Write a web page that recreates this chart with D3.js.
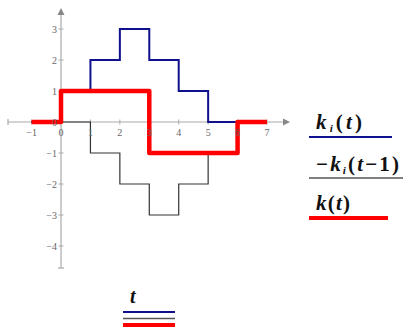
<!DOCTYPE html>
<html>
<head>
<meta charset="utf-8">
<script src="https://cdn.jsdelivr.net/npm/d3@7/dist/d3.min.js"></script>
<style>
  html, body { margin: 0; padding: 0; background: #fff; }
  svg { display: block; }
  .math { font-family: "Liberation Serif", "DejaVu Serif", serif; font-weight: bold; fill: #111; }
  .math .v { font-style: italic; }
  .tick-label { font-family: "Liberation Serif", "DejaVu Serif", serif; font-size: 10px; fill: #666; }
</style>
</head>
<body>
<svg id="chart" width="404" height="328"></svg>
<script>
// Sample times and step-function values (each value holds until the next time)
const times = [-1, 0, 1, 2, 3, 4, 5, 6, 7];
const kiValues = [0, 1, 2, 3, 2, 1, 0, 0, 0];          // k_i(t)
const kiShiftNeg = [0, 0, -1, -2, -3, -2, -1, 0, 0];   // -k_i(t-1)
const kValues = [0, 1, 1, 1, -1, -1, -1, 0, 0];        // k(t)
const xTicks = [-1, 0, 1, 2, 3, 4, 5, 6, 7];
const yTicks = [-4, -3, -2, -1, 0, 1, 2, 3];

const svg = d3.select("#chart");
const x = d3.scaleLinear().domain([0, 7]).range([61, 267]);
const y = d3.scaleLinear().domain([-4, 3]).range([246, 29]);

const axisColor = "#aaa";
const fmt = v => v < 0 ? "\u2212" + Math.abs(v) : String(v);

// Axis lines, end caps and arrows
const axes = svg.append("g");
axes.append("line").attr("x1", 8).attr("x2", 284).attr("y1", y(0)).attr("y2", y(0))
  .attr("stroke", axisColor).attr("stroke-width", 1.2);
axes.append("line").attr("x1", 8).attr("x2", 8).attr("y1", y(0) - 3).attr("y2", y(0) + 3)
  .attr("stroke", axisColor).attr("stroke-width", 1.2);
axes.append("path").attr("d", `M290,${y(0)} L283,${y(0) - 3.5} L283,${y(0) + 3.5} Z`).attr("fill", "#888");
axes.append("line").attr("x1", x(0)).attr("x2", x(0)).attr("y1", 14).attr("y2", 268)
  .attr("stroke", axisColor).attr("stroke-width", 1.2);
axes.append("line").attr("x1", x(0) - 3).attr("x2", x(0) + 3).attr("y1", 268).attr("y2", 268)
  .attr("stroke", axisColor).attr("stroke-width", 1.2);
axes.append("path").attr("d", `M${x(0)},8 L${x(0) - 3.5},15 L${x(0) + 3.5},15 Z`).attr("fill", "#888");
xTicks.forEach(t => {
  axes.append("line").attr("x1", x(t)).attr("x2", x(t)).attr("y1", y(0) - 2.5).attr("y2", y(0) + 2.5)
    .attr("stroke", axisColor).attr("stroke-width", 1);
});
yTicks.forEach(v => {
  axes.append("line").attr("x1", x(0) - 2.5).attr("x2", x(0) + 2.5).attr("y1", y(v)).attr("y2", y(v))
    .attr("stroke", axisColor).attr("stroke-width", 1);
});

// Step traces
const step = vals => d3.line().x((d, i) => x(times[i])).y(d => y(d)).curve(d3.curveStepAfter)(vals);

svg.append("path").attr("d", step(kiValues)).attr("fill", "none")
  .attr("stroke", "#10108c").attr("stroke-width", 2);
svg.append("path").attr("d", step(kiShiftNeg)).attr("fill", "none")
  .attr("stroke", "#333").attr("stroke-width", 1.2);
svg.append("path").attr("d", step(kValues)).attr("fill", "none")
  .attr("stroke", "#ff0000").attr("stroke-width", 4.5).attr("stroke-linejoin", "round");

// Tick labels drawn over the traces
const labels = svg.append("g");
xTicks.forEach(t => {
  labels.append("text").attr("class", "tick-label").attr("x", x(t)).attr("y", y(0) + 14)
    .attr("text-anchor", "middle").text(fmt(t));
});
yTicks.forEach(v => {
  labels.append("text").attr("class", "tick-label").attr("x", x(0) - 4).attr("y", y(v) + 3.5)
    .attr("text-anchor", "end").text(fmt(v));
});

// Legend on the right: [text, italic?, subscript?]
const legend = [
  { parts: [["k", 1], ["i", 1, 1], ["(", 0], ["t", 1], [")", 0]], color: "#10108c", w: 2,
    y: 129, len: 46, lx2: 392, ly: 137 },
  { parts: [["\u2212", 0], ["k", 1], ["i", 1, 1], ["(", 0], ["t", 1], ["\u22121)", 0]], color: "#555", w: 1.6,
    y: 171, len: 83, lx2: 403, ly: 178 },
  { parts: [["k", 1], ["(", 0], ["t", 1], [")", 0]], color: "#ff0000", w: 4,
    y: 210, len: 34, lx2: 388, ly: 218 }
];
legend.forEach(item => {
  const txt = svg.append("text").attr("class", "math").attr("x", 316).attr("y", item.y)
    .attr("font-size", 21).attr("textLength", item.len).attr("lengthAdjust", "spacing");
  let sub = false;
  item.parts.forEach(p => {
    const s = txt.append("tspan").text(p[0]);
    if (p[1]) s.classed("v", true);
    if (p[2]) { s.attr("font-size", 11).attr("dy", 3); sub = true; }
    else if (sub) { s.attr("dy", -3); sub = false; }
  });
  svg.append("line").attr("x1", 309).attr("x2", item.lx2).attr("y1", item.ly).attr("y2", item.ly)
    .attr("stroke", item.color).attr("stroke-width", item.w);
});

// Axis variable label with stacked swatches
svg.append("text").attr("class", "math").attr("x", 130).attr("y", 303).attr("font-size", 20)
  .append("tspan").classed("v", true).text("t");
[["#10108c", 312, 2], ["#555", 318.5, 1.6], ["#ff0000", 325, 4]].forEach(d => {
  svg.append("line").attr("x1", 123).attr("x2", 175).attr("y1", d[1]).attr("y2", d[1])
    .attr("stroke", d[0]).attr("stroke-width", d[2]);
});
</script>
</body>
</html>
